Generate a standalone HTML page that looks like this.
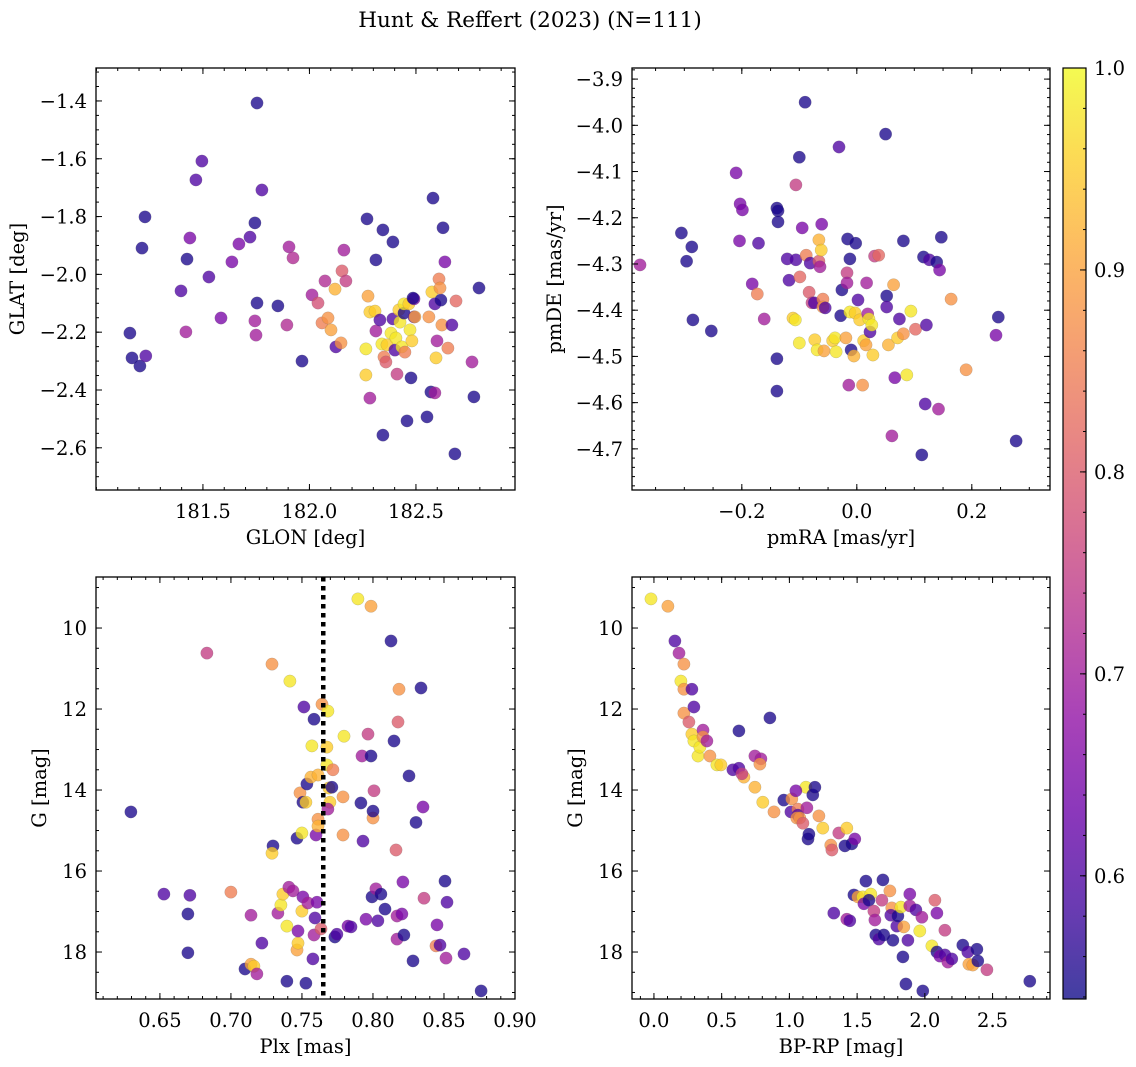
<!DOCTYPE html>
<html><head><meta charset="utf-8">
<style>
html,body{margin:0;padding:0;background:#fff;}
svg{display:block;font-family:"DejaVu Serif","Liberation Serif",serif;}
</style></head>
<body>
<svg id="fig" width="1136" height="1067" viewBox="0 0 1136 1067" xmlns="http://www.w3.org/2000/svg">
<defs>
<linearGradient id="plasmaGrad" x1="0" y1="1" x2="0" y2="0">
<stop offset="0" stop-color="#0d0887"/><stop offset="0.1" stop-color="#41049d"/><stop offset="0.2" stop-color="#6a00a8"/><stop offset="0.3" stop-color="#8f0da4"/><stop offset="0.4" stop-color="#b12a90"/><stop offset="0.5" stop-color="#cc4778"/><stop offset="0.6" stop-color="#e16462"/><stop offset="0.7" stop-color="#f2844b"/><stop offset="0.8" stop-color="#fca636"/><stop offset="0.9" stop-color="#fcce25"/><stop offset="1" stop-color="#f0f921"/>
</linearGradient>
</defs>
<text x="530" y="27" text-anchor="middle" font-size="21.5">Hunt &amp; Reffert (2023) (N=111)</text>
</svg>
<script>
// ---- Panel 1: GLON vs GLAT ----
const glon = [181.157,181.167,181.204,181.232,181.228,181.214,181.397,181.420,181.425,181.439,181.467,181.495,181.528,181.585,181.636,181.669,181.721,181.744,181.754,181.777,181.754,181.744,181.749,181.852,181.894,181.904,181.923,181.965,182.012,182.040,182.073,182.059,182.087,182.101,182.124,182.148,182.153,182.171,182.162,182.120,182.270,182.275,182.265,182.265,182.284,182.284,182.308,182.312,182.345,182.312,182.331,182.340,182.350,182.364,182.359,182.345,182.392,182.401,182.392,182.383,182.411,182.406,182.420,182.425,182.434,182.444,182.448,182.458,182.444,182.472,182.481,182.477,182.467,182.491,182.491,182.486,182.495,182.570,182.561,182.575,182.594,182.580,182.589,182.552,182.617,182.608,182.613,182.589,182.599,182.627,182.636,182.622,182.650,182.669,182.688,182.683,182.763,182.772,182.796];
const glat = [-2.203,-2.289,-2.317,-2.282,-1.801,-1.909,-2.057,-2.199,-1.947,-1.874,-1.673,-1.608,-2.009,-2.151,-1.957,-1.895,-1.871,-1.822,-1.407,-1.708,-2.099,-2.161,-2.210,-2.109,-2.175,-1.905,-1.943,-2.300,-2.071,-2.099,-2.023,-2.168,-2.151,-2.192,-2.251,-2.237,-1.988,-2.023,-1.916,-2.051,-1.808,-2.075,-2.258,-2.348,-2.428,-2.130,-2.127,-1.950,-1.846,-2.196,-2.158,-2.241,-2.286,-2.244,-2.303,-2.556,-1.888,-2.262,-2.154,-2.203,-2.345,-2.220,-2.123,-2.165,-2.251,-2.134,-2.269,-2.507,-2.102,-2.192,-2.230,-2.358,-2.102,-2.085,-2.147,-2.082,-2.147,-2.407,-2.147,-2.061,-2.289,-1.736,-2.102,-2.493,-2.089,-2.016,-2.047,-2.410,-2.230,-1.839,-1.957,-2.175,-2.255,-2.175,-2.092,-2.621,-2.303,-2.424,-2.047];
const prob1 = [.55,.55,.55,.6,.55,.55,.6,.7,.55,.65,.6,.6,.6,.65,.65,.65,.6,.55,.55,.6,.55,.7,.7,.55,.72,.7,.72,.55,.7,.78,.72,.85,.88,.9,.6,.88,.8,.75,.7,.92,.55,.9,.98,.95,.7,.95,.95,.55,.55,.7,.6,.98,.85,.95,.8,.55,.55,.6,.6,.98,.75,.98,.95,.98,.98,.55,.85,.55,.98,.98,.95,.55,.95,.65,.6,.55,.9,.55,.88,.95,.95,.55,.6,.55,.55,.85,.88,.7,.7,.55,.65,.88,.85,.6,.82,.55,.7,.55,.55];
const p1xTicks = [181.5,182.0,182.5];
const p1xTickLabels = ["181.5","182.0","182.5"];
const p1yTicks = [-1.4,-1.6,-1.8,-2.0,-2.2,-2.4,-2.6];
const p1yTickLabels = ["\u22121.4","\u22121.6","\u22121.8","\u22122.0","\u22122.2","\u22122.4","\u22122.6"];

// ---- Panel 2: pmRA vs pmDE ----
const pmra = [-0.377,-0.305,-0.296,-0.287,-0.285,-0.253,-0.21,-0.203,-0.199,-0.204,-0.182,-0.173,-0.171,-0.161,-0.139,-0.137,-0.137,-0.139,-0.139,-0.121,-0.118,-0.111,-0.107,-0.106,-0.106,-0.10,-0.10,-0.099,-0.095,-0.09,-0.088,-0.083,-0.081,-0.078,-0.074,-0.073,-0.069,-0.066,-0.066,-0.064,-0.062,-0.061,-0.059,-0.059,-0.057,-0.055,-0.042,-0.038,-0.036,-0.031,-0.028,-0.026,-0.019,-0.017,-0.016,-0.017,-0.012,-0.014,-0.012,-0.010,-0.005,-0.003,-0.002,0.002,0.005,0.01,0.012,0.016,0.017,0.019,0.021,0.023,0.026,0.028,0.031,0.038,0.05,0.052,0.052,0.055,0.061,0.064,0.066,0.071,0.074,0.081,0.081,0.087,0.094,0.102,0.113,0.116,0.119,0.121,0.126,0.139,0.142,0.144,0.147,0.164,0.19,0.242,0.246,0.277];
const pmde = [-4.302,-4.233,-4.294,-4.263,-4.421,-4.445,-4.103,-4.170,-4.183,-4.250,-4.343,-4.365,-4.255,-4.419,-4.179,-4.185,-4.209,-4.505,-4.575,-4.289,-4.335,-4.417,-4.421,-4.129,-4.291,-4.069,-4.471,-4.328,-4.222,-3.950,-4.281,-4.361,-4.298,-4.384,-4.384,-4.464,-4.486,-4.294,-4.248,-4.306,-4.270,-4.214,-4.376,-4.393,-4.488,-4.395,-4.466,-4.460,-4.490,-4.047,-4.412,-4.356,-4.460,-4.319,-4.246,-4.341,-4.289,-4.562,-4.404,-4.486,-4.499,-4.406,-4.255,-4.378,-4.421,-4.562,-4.466,-4.475,-4.341,-4.408,-4.419,-4.447,-4.432,-4.497,-4.283,-4.281,-4.019,-4.369,-4.393,-4.475,-4.672,-4.345,-4.546,-4.460,-4.419,-4.250,-4.451,-4.540,-4.402,-4.441,-4.713,-4.285,-4.603,-4.432,-4.291,-4.296,-4.614,-4.313,-4.242,-4.376,-4.529,-4.454,-4.415,-4.683];
const prob2 = [.7,.55,.55,.55,.55,.55,.65,.65,.65,.65,.65,.85,.6,.7,.55,.55,.55,.55,.55,.6,.6,.95,.98,.75,.6,.55,.98,.82,.65,.55,.85,.8,.6,.75,.6,.95,.98,.8,.92,.7,.95,.65,.85,.88,.9,.6,.95,.98,.98,.6,.55,.55,.9,.75,.55,.7,.55,.7,.98,.55,.92,.95,.55,.6,.95,.88,.95,.9,.7,.7,.98,.6,.98,.95,.75,.82,.55,.55,.6,.92,.7,.9,.65,.95,.6,.55,.88,.98,.98,.82,.55,.55,.6,.6,.6,.55,.7,.65,.55,.88,.88,.65,.55,.55];
const p2xTicks = [-0.2,0.0,0.2];
const p2xTickLabels = ["\u22120.2","0.0","0.2"];
const p2yTicks = [-3.9,-4.0,-4.1,-4.2,-4.3,-4.4,-4.5,-4.6,-4.7];
const p2yTickLabels = ["\u22123.9","\u22124.0","\u22124.1","\u22124.2","\u22124.3","\u22124.4","\u22124.5","\u22124.6","\u22124.7"];

// ---- Panel 3: Plx vs G ----
const plx = [0.6296,0.6528,0.6711,0.6697,0.6697,0.6831,0.7000,0.7099,0.7141,0.7141,0.7162,0.7183,0.7218,0.7289,0.7296,0.7289,0.7331,0.7352,0.7366,0.7394,0.7394,0.7415,0.7408,0.7437,0.7465,0.7465,0.7472,0.7472,0.7486,0.7500,0.7507,0.7500,0.7507,0.7514,0.7528,0.7528,0.7542,0.7535,0.7563,0.7570,0.7577,0.7585,0.7585,0.7592,0.7599,0.7606,0.7613,0.7613,0.7613,0.7634,0.7641,0.7676,0.7676,0.7683,0.7690,0.7697,0.7683,0.7711,0.7718,0.7732,0.7746,0.7789,0.7796,0.7789,0.7824,0.7845,0.7894,0.7915,0.7923,0.7930,0.7951,0.7965,0.7986,0.7986,0.7993,0.8000,0.8000,0.8007,0.8021,0.8035,0.8056,0.8085,0.8127,0.8148,0.8169,0.8183,0.8176,0.8162,0.8169,0.8211,0.8204,0.8218,0.8254,0.8282,0.8303,0.8338,0.8352,0.8359,0.8444,0.8472,0.8451,0.8514,0.8507,0.8521,0.8641,0.8761];
const gmag3 = [14.54,16.57,16.6,17.06,18.02,10.62,16.52,18.42,17.09,18.3,18.35,18.54,17.78,10.89,15.38,15.56,17.04,16.84,16.57,17.36,18.72,11.31,16.4,16.49,15.19,17.95,17.78,17.48,14.07,15.06,14.3,16.99,16.64,11.95,18.77,14.3,16.79,13.85,13.68,12.91,18.17,17.58,12.25,17.16,15.11,16.77,13.63,14.72,14.89,17.43,11.88,13.38,12.94,12.05,13.95,14.3,14.47,13.93,13.5,17.63,17.56,14.17,12.67,15.11,17.36,17.38,9.28,14.32,13.16,15.26,17.19,12.62,13.16,9.46,16.64,14.69,14.52,14.02,16.44,17.23,16.57,16.94,10.32,12.79,17.11,11.51,12.32,15.48,17.68,16.27,17.06,17.58,13.65,18.22,14.8,11.48,14.42,16.67,17.85,17.83,17.33,18.15,16.25,16.77,18.05,18.96];
const prob3 = [.55,.6,.6,.55,.55,.75,.85,.55,.7,.9,.95,.7,.6,.88,.55,.95,.7,.98,.95,.98,.55,.98,.7,.7,.55,.9,.95,.65,.88,.98,.55,.95,.65,.6,.55,.95,.7,.55,.92,.98,.6,.7,.55,.6,.65,.65,.92,.88,.92,.8,.88,.98,.95,.98,.95,.95,.7,.55,.85,.55,.6,.88,.98,.88,.65,.6,.98,.55,.7,.6,.65,.75,.55,.9,.55,.88,.55,.75,.7,.6,.55,.55,.55,.55,.7,.88,.8,.8,.7,.65,.65,.55,.55,.55,.55,.55,.65,.75,.85,.6,.65,.7,.55,.6,.6,.55];
const plxLine = [0.765];
const p3xTicks = [0.65,0.70,0.75,0.80,0.85,0.90];
const p3xTickLabels = ["0.65","0.70","0.75","0.80","0.85","0.90"];
const gTicks = [10,12,14,16,18];
const gTickLabels = ["10","12","14","16","18"];

// ---- Panel 4: BP-RP vs G ----
const bprp = [-0.022,0.103,0.155,0.185,0.199,0.221,0.221,0.280,0.221,0.258,0.295,0.280,0.295,0.325,0.339,0.362,0.362,0.413,0.391,0.465,0.494,0.583,0.627,0.627,0.664,0.649,0.745,0.790,0.782,0.745,0.804,0.856,0.886,0.959,1.011,1.018,1.063,1.063,1.055,1.077,1.122,1.129,1.100,1.048,1.173,1.188,1.218,1.137,1.144,1.247,1.306,1.314,1.365,1.410,1.424,1.461,1.483,1.328,1.424,1.446,1.476,1.506,1.542,1.550,1.565,1.601,1.587,1.624,1.631,1.638,1.661,1.683,1.690,1.697,1.742,1.756,1.749,1.764,1.793,1.801,1.823,1.845,1.838,1.860,1.875,1.889,1.889,1.934,1.963,1.985,1.978,2.052,2.074,2.089,2.089,2.111,2.148,2.148,2.170,2.199,2.280,2.317,2.325,2.354,2.384,2.391,2.458,2.775];
const gmag4 = [9.28,9.46,10.32,10.62,11.31,10.89,11.51,11.51,12.1,12.32,11.95,12.62,12.79,13.16,12.94,12.52,12.69,13.16,12.79,13.38,13.38,13.5,13.46,12.54,13.68,13.6,13.16,13.23,13.36,13.93,14.3,12.22,14.54,14.25,14.54,14.22,14.47,14.62,14.69,14.69,13.93,14.44,14.82,14.02,14.12,13.93,14.64,15.21,15.09,14.94,15.36,15.48,15.06,15.38,14.94,15.33,15.21,17.04,17.19,17.23,16.59,16.64,16.64,16.81,16.25,16.57,16.72,16.99,17.21,17.58,17.68,16.72,16.22,17.58,16.49,16.91,17.09,17.71,17.36,17.11,16.89,17.38,18.12,18.79,17.71,16.57,16.86,16.96,17.48,18.96,17.14,17.85,16.72,17.04,18.0,18.1,17.46,18.07,18.25,18.17,17.83,18.0,18.3,18.32,17.93,18.22,18.44,18.72];
const prob4 = [.98,.9,.6,.7,.98,.88,.88,.6,.88,.8,.6,.95,.98,.98,.98,.7,.88,.88,.7,.98,.95,.6,.6,.55,.92,.75,.7,.7,.88,.92,.95,.55,.88,.55,.6,.88,.85,.6,.88,.88,.98,.7,.8,.65,.55,.55,.88,.55,.55,.95,.88,.8,.75,.55,.95,.55,.65,.6,.7,.6,.55,.9,.98,.65,.55,.98,.55,.75,.7,.55,.6,.75,.55,.55,.88,.88,.6,.55,.6,.55,.98,.9,.55,.55,.6,.65,.7,.6,.98,.55,.7,.98,.8,.65,.55,.65,.75,.6,.7,.6,.55,.6,.9,.9,.55,.55,.75,.55];
const p4xTicks = [0.0,0.5,1.0,1.5,2.0,2.5];
const p4xTickLabels = ["0.0","0.5","1.0","1.5","2.0","2.5"];

// ---- Colorbar ----
const cbTicks = [0.6,0.7,0.8,0.9,1.0];
const cbTickLabels = ["0.6","0.7","0.8","0.9","1.0"];
const cbMin = 0.539, cbMax = 1.0;

const FS = 19.5;
const NS = "http://www.w3.org/2000/svg";
const svg = document.getElementById("fig");
function mk(tag, attrs, parent){
  const e = document.createElementNS(NS, tag);
  for (const k in attrs) e.setAttribute(k, attrs[k]);
  (parent||svg).appendChild(e);
  return e;
}
const stops = [[13,8,135],[65,4,157],[106,0,168],[143,13,164],[177,42,144],[204,71,120],[225,100,98],[242,132,75],[252,166,54],[252,206,37],[240,249,33]];
function plasma(v){
  let t = (v-cbMin)/(cbMax-cbMin); t = Math.max(0,Math.min(1,t));
  const s = t*10, i = Math.min(9, Math.floor(s)), f = s-i;
  const a = stops[i], b = stops[i+1];
  return "rgb(" + [0,1,2].map(k=>Math.round(a[k]+(b[k]-a[k])*f)).join(",") + ")";
}
function linScale(d0,d1,r0,r1){ return v => r0 + (v-d0)/(d1-d0)*(r1-r0); }

function panel(o){
  const g = mk("g",{});
  
  
  const X = linScale(o.xd[0],o.xd[1],o.L,o.R);
  const Y = linScale(o.yd[0],o.yd[1],o.B,o.T);
  const pg = mk("g",{},g);
  
  
  for (let i=0;i<o.xs.length;i++){
    const c = mk("circle",{cx:X(o.xs[i]).toFixed(1),cy:Y(o.ys[i]).toFixed(1),r:6.2,fill:plasma(o.cs[i]),"fill-opacity":0.78,stroke:"#666","stroke-opacity":0.35,"stroke-width":0.5},pg);
    
    
  }
  if (o.vline){
    for (const v of o.vline){
      const l = mk("line",{x1:X(v),x2:X(v),y1:o.T,y2:o.B,stroke:"#000","stroke-width":4.5,"stroke-dasharray":"4.5,4.5"},g);
      
      
    }
  }
  const f = mk("rect",{x:o.L,y:o.T,width:o.R-o.L,height:o.B-o.T,fill:"none",stroke:"#000","stroke-width":1.3},g);
  
  
  const tg = mk("g",{stroke:"#000","stroke-width":1},g);
  
  
  const xmin = Math.min(o.xd[0],o.xd[1]), xmax = Math.max(o.xd[0],o.xd[1]);
  for (let k=Math.ceil(xmin/o.xminor-1e-6); k*o.xminor<=xmax; k++){
    const x = X(k*o.xminor);
    mk("line",{x1:x,x2:x,y1:o.B,y2:o.B-3},tg); mk("line",{x1:x,x2:x,y1:o.T,y2:o.T+3},tg);
  }
  const ymin = Math.min(o.yd[0],o.yd[1]), ymax = Math.max(o.yd[0],o.yd[1]);
  for (let k=Math.ceil(ymin/o.yminor-1e-6); k*o.yminor<=ymax; k++){
    const y = Y(k*o.yminor);
    mk("line",{x1:o.L,x2:o.L+3,y1:y,y2:y},tg); mk("line",{x1:o.R,x2:o.R-3,y1:y,y2:y},tg);
  }
  o.xt.forEach((v,i)=>{
    const x = X(v);
    mk("line",{x1:x,x2:x,y1:o.B,y2:o.B-6},tg); mk("line",{x1:x,x2:x,y1:o.T,y2:o.T+6},tg);
    const t = mk("text",{x:x,y:o.B+28,"text-anchor":"middle","font-size":FS},g);
    t.textContent = o.xtl[i];
    
    
  });
  o.yt.forEach((v,i)=>{
    const y = Y(v);
    mk("line",{x1:o.L,x2:o.L+6,y1:y,y2:y},tg); mk("line",{x1:o.R,x2:o.R-6,y1:y,y2:y},tg);
    const t = mk("text",{x:o.L-9,y:y+7,"text-anchor":"end","font-size":FS},g);
    t.textContent = o.ytl[i];
    
    
  });
  const xl = mk("text",{x:(o.L+o.R)/2,y:o.B+54,"text-anchor":"middle","font-size":FS},g);
  xl.textContent = o.xlabel;
  
  
  const yx = o.ylx, yy = (o.T+o.B)/2;
  const yl = mk("text",{x:yx,y:yy,"text-anchor":"middle","font-size":FS,transform:"rotate(-90 "+yx+" "+yy+")"},g);
  yl.textContent = o.ylabel;
  
  
}

panel({name:"sky-position-panel",L:96,R:515,T:68,B:490,xd:[180.998,182.965],yd:[-2.746,-1.286],xs:glon,ys:glat,cs:prob1,xt:p1xTicks,xtl:p1xTickLabels,yt:p1yTicks,ytl:p1yTickLabels,xminor:0.1,yminor:0.05,xlabel:"GLON [deg]",ylabel:"GLAT [deg]",ylx:24});
panel({name:"proper-motion-panel",L:632,R:1050,T:68,B:490,xd:[-0.391,0.336],yd:[-4.789,-3.876],xs:pmra,ys:pmde,cs:prob2,xt:p2xTicks,xtl:p2xTickLabels,yt:p2yTicks,ytl:p2yTickLabels,xminor:0.05,yminor:0.02,xlabel:"pmRA [mas/yr]",ylabel:"pmDE [mas/yr]",ylx:561});
panel({name:"parallax-magnitude-panel",L:96,R:515,T:577,B:999,xd:[0.605,0.900],yd:[19.16,8.74],xs:plx,ys:gmag3,cs:prob3,vline:plxLine,xt:p3xTicks,xtl:p3xTickLabels,yt:gTicks,ytl:gTickLabels,xminor:0.01,yminor:0.5,xlabel:"Plx [mas]",ylabel:"G [mag]",ylx:46});
panel({name:"color-magnitude-panel",L:632,R:1050,T:577,B:999,xd:[-0.162,2.924],yd:[19.16,8.74],xs:bprp,ys:gmag4,cs:prob4,xt:p4xTicks,xtl:p4xTickLabels,yt:gTicks,ytl:gTickLabels,xminor:0.1,yminor:0.5,xlabel:"BP-RP [mag]",ylabel:"G [mag]",ylx:582});

(function(){
  const L=1063,R=1086,T=68,B=999;
  const CY = linScale(cbMin,cbMax,B,T);
  const g = mk("g",{});
  
  
  const r = mk("rect",{x:L,y:T,width:R-L,height:B-T,fill:"url(#plasmaGrad)","fill-opacity":0.78,stroke:"#000","stroke-width":1.2},g);
  
  
  for (let k=Math.ceil(cbMin/0.02); k*0.02<=cbMax+1e-9; k++){
    const y = CY(k*0.02);
    mk("line",{x1:R,x2:R-3,y1:y,y2:y,stroke:"#000","stroke-width":1},g);
  }
  cbTicks.forEach((v,i)=>{
    const y = CY(v);
    mk("line",{x1:R,x2:R-6,y1:y,y2:y,stroke:"#000","stroke-width":1},g);
    const t = mk("text",{x:R+8,y:y+7,"font-size":FS},g);
    t.textContent = cbTickLabels[i];
    
    
  });
})();
</script>
</body></html>
